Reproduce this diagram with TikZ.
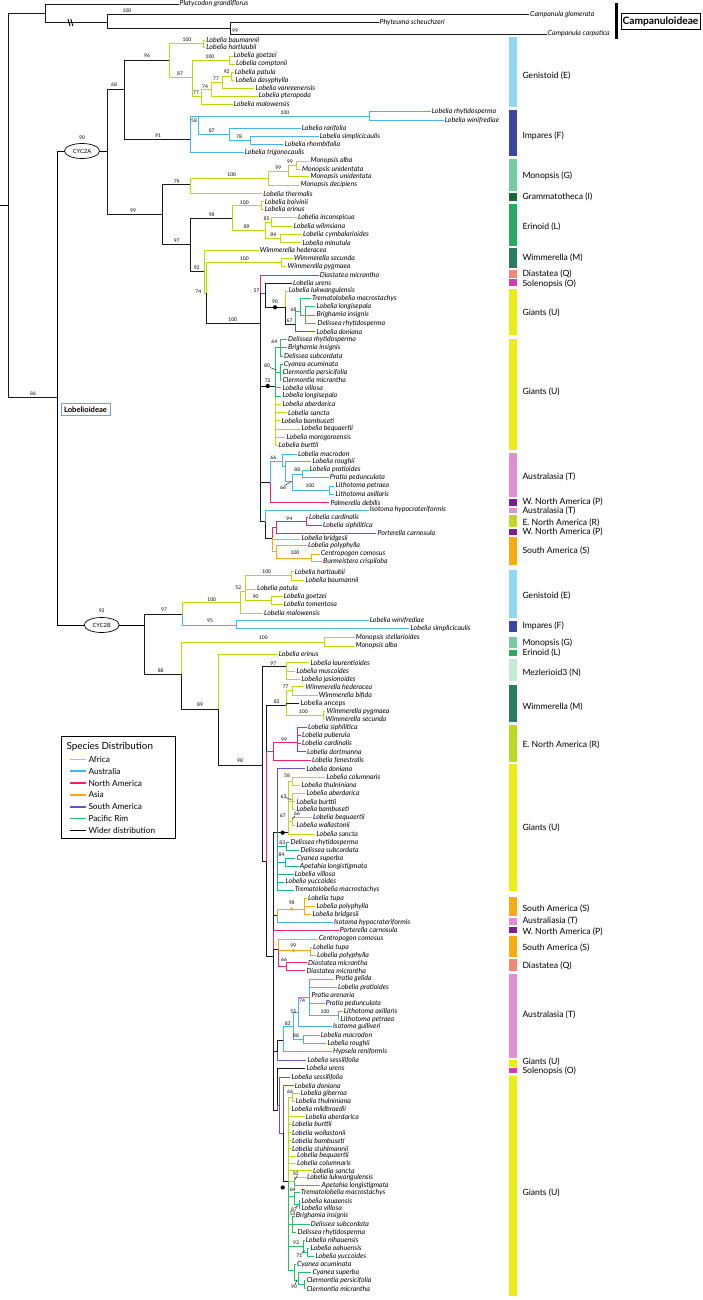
\documentclass[tikz,border=0pt]{standalone}
\usepackage{fontspec}
\setmainfont{Lato}
\usetikzlibrary{shapes.geometric}
\definecolor{cAf}{RGB}{186,216,10}
\definecolor{cAu}{RGB}{75,178,232}
\definecolor{cNa}{RGB}{232,40,100}
\definecolor{cAs}{RGB}{248,168,20}
\definecolor{cSa}{RGB}{100,85,190}
\definecolor{cPr}{RGB}{45,188,100}
\definecolor{cPt}{RGB}{35,170,140}
\definecolor{cWd}{RGB}{25,25,25}
\definecolor{bGen}{RGB}{145,215,242}
\definecolor{bImp}{RGB}{58,70,160}
\definecolor{bMon}{RGB}{115,205,160}
\definecolor{bGra}{RGB}{30,100,55}
\definecolor{bEri}{RGB}{45,168,100}
\definecolor{bWim}{RGB}{40,125,95}
\definecolor{bDia}{RGB}{245,135,120}
\definecolor{bSol}{RGB}{210,60,175}
\definecolor{bGia}{RGB}{236,236,22}
\definecolor{bAus}{RGB}{222,145,210}
\definecolor{bWNA}{RGB}{125,30,140}
\definecolor{bENA}{RGB}{190,217,35}
\definecolor{bSAm}{RGB}{248,172,20}
\definecolor{bMez}{RGB}{196,235,214}
\definecolor{lobbox}{RGB}{110,165,215}
\tikzset{
  tip/.style={anchor=west, inner xsep=1pt, inner ysep=0pt, font=\fontsize{7}{7}\selectfont\itshape},
  tipu/.style={anchor=west, inner xsep=1pt, inner ysep=0pt, font=\fontsize{7}{7}\selectfont},
  bsl/.style={inner sep=0pt, font=\fontsize{5}{5}\selectfont},
  br/.style={line width=0.85pt},
  grp/.style={anchor=west, inner sep=0pt, font=\fontsize{8.6}{8.6}\selectfont},
  oval/.style={ellipse, draw, line width=0.7pt, minimum width=35pt, minimum height=15pt, inner sep=0pt, fill=white, font=\fontsize{5.8}{5.8}\selectfont},
  dotb/.style={circle, fill=black, inner sep=0pt, minimum size=4.2pt},
  doto/.style={circle, fill=cAs, inner sep=0pt, minimum size=3.6pt},
  legl/.style={anchor=west, inner sep=0pt, font=\fontsize{8.3}{8.3}\selectfont},
  leader/.style={line width=0.4pt}
}
\newcommand\Tp[4]{\node[tip] (#1) at (#2,#3) {#4};}
\newcommand\Tu[4]{\node[tipu] (#1) at (#2,#3) {#4};}
\newcommand\Cd[3]{\coordinate (#1) at (#2,#3);}
\newcommand\Et[3]{\draw[br,#1] (#2) |- (#3.west);}
\newcommand\En[3]{\draw[br,#1] (#2) |- (#3);}
\newcounter{bsn}
\newcommand\Bs[3]{\stepcounter{bsn}\node[bsl] (bs\number\value{bsn}) at (#1,#2) {#3};}
\newcommand\GrpBar[6]{\fill[#1] (509.3,#2) rectangle (517.3,#3); \node[grp] (#6) at (522.3,#4) {#5};}
\begin{document}
\begin{tikzpicture}[x=1pt,y=-1pt]
\useasboundingbox (0,0) rectangle (703,1300);
\fill[white] (0,0) rectangle (703,1300);
% ================= Campanuloideae
\Cd{rootS}{0}{205}
\Cd{root}{8}{205}
\draw[br] (rootS) -- (root);
\Cd{cp0}{45}{13.5}
\Cd{cp1}{107}{22.4}
\Cd{cp2}{230}{28.5}
\Tp{platy}{178.5}{4}{Platycodon grandiflorus}
\Tp{cglom}{529}{14.5}{Campanula glomerata}
\Tp{phyt}{378.5}{22.5}{Phyteuma scheuchzeri}
\Tp{ccarp}{546.5}{34}{Campanula carpatica}
\En{cWd}{root}{cp0}
\Et{cWd}{cp0}{platy}
\En{cWd}{cp0}{cp1}
\Et{cWd}{cp1}{cglom}
\En{cWd}{cp1}{cp2}
\Et{cWd}{cp2}{phyt}
\Et{cWd}{cp2}{ccarp}
\Bs{127}{11}{100}
\Bs{235}{30.5}{99}
\draw[line width=0.9pt] (68,19) -- (70,26) (70.8,19) -- (72.8,26);
\fill (614.5,3.5) rectangle (618,39);
\node[draw, line width=0.8pt, minimum width=79pt, minimum height=16pt, inner sep=0pt, font=\bfseries\fontsize{10.2}{10.2}\selectfont] (campbox) at (660.5,21.3) {Campanuloideae};
% ================= Lobelioideae backbone
\Cd{lb0}{57}{397}
\En{cWd}{root}{lb0}
\Bs{33}{393.5}{86}
\node[draw=lobbox, line width=0.6pt, minimum width=49pt, minimum height=11.8pt, inner sep=0pt, font=\bfseries\fontsize{7.6}{7.6}\selectfont] (lobbox) at (85.5,409.5) {Lobelioideae};
\Cd{n68}{107}{151}
\Cd{nB0}{144}{625}
\draw[br] (lb0) |- (n68);
\draw[br] (lb0) |- (nB0);
\node[oval] (ovA) at (82,151) {CYC2A};
\node[oval] (ovB) at (101.7,625) {CYC2B};
\Bs{82}{137.5}{90}
\Bs{101.7}{611}{92}
% ================= CYC2A
\Cd{n1}{124}{89}
\Cd{n99}{162.7}{214}
\En{cWd}{n68}{n1}
\En{cWd}{n68}{n99}
\Bs{114}{85}{68}
\Bs{133}{211}{99}
% Genistoid A
\Cd{G0}{169.3}{60}
\Cd{G1}{203}{43.5}
\Cd{G2}{192.3}{77}
\Cd{G3}{229.3}{60}
\Cd{G4}{201}{96.7}
\Cd{G5}{211.7}{89.3}
\Cd{G6}{222}{82.5}
\Cd{G7}{231.7}{76.7}
\Tp{baum}{205.2}{40}{Lobelia baumannii}
\Tp{hart}{205.2}{47.3}{Lobelia hartlaubii}
\Tp{goet}{232.7}{56}{Lobelia goetzei}
\Tp{compt}{235}{64}{Lobelia comptonii}
\Tp{patula}{233.7}{72.7}{Lobelia patula}
\Tp{dasy}{234.4}{80.7}{Lobelia dasyphylla}
\Tp{vanr}{254.4}{88.3}{Lobelia vanreenensis}
\Tp{pter}{257.7}{96}{Lobelia pteropoda}
\Tp{malow}{232.7}{104}{Lobelia malowensis}
\En{cWd}{n1}{G0}
\En{cAf}{G0}{G1} \En{cAf}{G0}{G2}
\Et{cAf}{G1}{baum} \Et{cAf}{G1}{hart}
\En{cAf}{G2}{G3} \En{cAf}{G2}{G4}
\Et{cAf}{G3}{goet} \Et{cAf}{G3}{compt}
\En{cAf}{G4}{G5} \Et{cAf}{G4}{malow}
\En{cAf}{G5}{G6} \Et{cAf}{G5}{pter}
\En{cAf}{G6}{G7} \Et{cAf}{G6}{vanr}
\Et{cAf}{G7}{patula} \Et{cAf}{G7}{dasy}
\Bs{147}{56}{96} \Bs{187}{40}{100} \Bs{180}{73.5}{87} \Bs{210}{57}{100}
\Bs{196}{93}{77} \Bs{205}{86.5}{74} \Bs{216}{79}{77} \Bs{226.7}{72}{92}
% Impares A
\Cd{I0}{190}{139}
\Cd{I1}{198.3}{116.7}
\Cd{I2}{369.3}{116}
\Cd{I3}{229.3}{134.3}
\Cd{I4}{250}{140}
\Tp{rhyt}{430.7}{111.7}{Lobelia rhytidosperma}
\Tp{winif}{443.7}{120}{Lobelia winifrediae}
\Tp{rari}{300.7}{128.3}{Lobelia rarifolia}
\Tp{simpl}{318.7}{136.7}{Lobelia simplicicaulis}
\Tp{rhomb}{283.7}{144.3}{Lobelia rhombifolia}
\Tp{trig}{243.7}{152.3}{Lobelia trigonocaulis}
\En{cWd}{n1}{I0}
\En{cAu}{I0}{I1} \Et{cAu}{I0}{trig}
\En{cAu}{I1}{I2} \En{cAu}{I1}{I3}
\Et{cAu}{I2}{rhyt} \Et{cAu}{I2}{winif}
\Et{cAu}{I3}{rari} \En{cAu}{I3}{I4}
\Et{cAu}{I4}{simpl} \Et{cAu}{I4}{rhomb}
\Bs{158}{135.5}{91} \Bs{194}{120.5}{58} \Bs{285}{113}{100} \Bs{211.7}{130.5}{87} \Bs{239}{137}{78}
% Monopsis A
\Cd{M0}{190}{184.3}
\Cd{Mo1}{268.3}{178.3}
\Cd{Mo2}{288.3}{171.7}
\Cd{Mo3}{296.7}{165}
\Tp{alba}{309.4}{161}{Monopsis alba}
\Tp{unid1}{301}{169.3}{Monopsis unidentata}
\Tp{unid2}{309.4}{176.7}{Monopsis unidentata}
\Tp{decip}{299.4}{185}{Monopsis decipiens}
\Tp{therm}{262.2}{193.5}{Lobelia thermalis}
\En{cWd}{n99}{M0}
\En{cAf}{M0}{Mo1} \Et{cAf}{M0}{therm}
\En{cAf}{Mo1}{Mo2} \Et{cAf}{Mo1}{decip}
\En{cAf}{Mo2}{Mo3} \Et{cAf}{Mo2}{unid2}
\Et{cAf}{Mo3}{alba} \Et{cAf}{Mo3}{unid1}
\Bs{176.7}{181.5}{79} \Bs{231.7}{175}{100} \Bs{278.3}{167.5}{99} \Bs{290}{161.5}{99}
% Erinoid A
\Cd{E0}{190}{244}
\Cd{Er0}{232.7}{218.3}
\Cd{Er1}{261.7}{205.5}
\Cd{Er2}{265}{230}
\Cd{Er3}{271.7}{222}
\Cd{Er4}{280}{238.5}
\Tp{boiv}{263.7}{201.7}{Lobelia boivinii}
\Tp{erin}{263.7}{209.3}{Lobelia erinus}
\Tp{incon}{297}{217.7}{Lobelia inconspicua}
\Tp{wilms}{292.7}{226}{Lobelia wilmsiana}
\Tp{cymb}{302}{234.3}{Lobelia cymbalarioides}
\Tp{minut}{301.4}{242.7}{Lobelia minutula}
\En{cWd}{n99}{E0}
\En{cWd}{E0}{Er0}
\En{cAf}{Er0}{Er1} \En{cAf}{Er0}{Er2}
\Et{cAf}{Er1}{boiv} \Et{cAf}{Er1}{erin}
\En{cAf}{Er2}{Er3} \En{cAf}{Er2}{Er4}
\Et{cAf}{Er3}{incon} \Et{cAf}{Er3}{wilms}
\Et{cAf}{Er4}{cymb} \Et{cAf}{Er4}{minut}
\Bs{176.7}{240.5}{97} \Bs{211.7}{215}{98} \Bs{244.3}{202.5}{100} \Bs{246.7}{226.5}{89} \Bs{266.5}{218.5}{85} \Bs{273.3}{234.5}{84}
% Wimmerella A
\Cd{W0}{204}{271.7}
\Cd{W1}{206.7}{293}
\Cd{Wp}{281.7}{262.5}
\Cd{GA}{260.7}{323.3}
\Tp{hed}{258.7}{250}{Wimmerella hederacea}
\Tp{sec}{293}{258.3}{Wimmerella secunda}
\Tp{pyg}{286.4}{266.7}{Wimmerella pygmaea}
\En{cWd}{E0}{W0}
\Et{cAf}{W0}{hed} \En{cAf}{W0}{W1}
\En{cAf}{W1}{Wp} \En{cWd}{W1}{GA}
\Et{cAf}{Wp}{sec} \Et{cAf}{Wp}{pyg}
\Bs{196.7}{267.3}{92} \Bs{198.3}{291.7}{74} \Bs{244.3}{259}{100} \Bs{232.7}{320}{100}
% Giants 1
\Cd{D0}{260.7}{293.3}
\Cd{U0}{265}{293.3}
\Cd{U1}{285.7}{307.3}
\Cd{U2}{295}{324.3}
\Cd{U3}{300}{311}
\Cd{U4}{305}{315}
\Tp{diast}{318.7}{275}{Diastatea micrantha}
\Tp{urens}{292}{283.3}{Lobelia urens}
\Tp{lukw}{287.7}{291}{Lobelia lukwangulensis}
\Tp{trem1}{311}{298.3}{Trematolobelia macrostachys}
\Tp{longi1}{315.4}{306.7}{Lobelia longisepala}
\Tp{brig1}{315.4}{315}{Brighamia insignis}
\Tp{delr1}{316.4}{323.3}{Delissea rhytidosperma}
\Tp{doni1}{315.4}{331.7}{Lobelia doniana}
\En{cWd}{GA}{D0}
\Et{cNa}{D0}{diast} \En{cNa}{D0}{U0}
\Et{cWd}{U0}{urens} \En{cWd}{U0}{U1}
\Et{cAf}{U1}{lukw} \En{cWd}{U1}{U2}
\En{cPr}{U2}{U3} \Et{cSa}{U2}{doni1}
\Et{cPr}{U3}{trem1} \En{cPr}{U3}{U4}
\Et{cPr}{U4}{longi1} \Et{cPr}{U4}{brig1} \Et{cPr}{U4}{delr1}
\node[dotb] (dot1) at (275,307.3) {};
\Bs{256.5}{291}{57} \Bs{275}{302}{90} \Bs{293.5}{309.5}{68} \Bs{289.5}{320.5}{67}
% Giants 2
\Cd{G72}{275}{386}
\Cd{n64}{280}{347.7}
\Cd{n80}{280}{372.3}
\Tp{delr2}{287}{339.3}{Delissea rhytidosperma}
\Tp{brig2}{287}{347.7}{Brighamia insignis}
\Tp{dels2}{283}{356}{Delissea subcordata}
\Tp{cyac}{282.7}{364.3}{Cyanea acuminata}
\Tp{clp}{281.4}{372.3}{Clermontia persicifolia}
\Tp{clm}{281.4}{380}{Clermontia micrantha}
\Tp{villo1}{281.4}{387.7}{Lobelia villosa}
\Tp{longi2}{281.4}{396}{Lobelia longisepala}
\Tp{aberd1}{281.4}{404.3}{Lobelia aberdarica}
\Tp{sancta1}{287}{412.7}{Lobelia sancta}
\Tp{bamb1}{280.4}{420.7}{Lobelia bambuseti}
\Tp{bequ1}{300.4}{429}{Lobelia bequaertii}
\Tp{morog}{285.4}{437.3}{Lobelia morogoroensis}
\Tp{burt1}{277.7}{445}{Lobelia burttii}
\En{cWd}{GA}{G72}
\Et{cAf}{G72}{aberd1} \Et{cAf}{G72}{sancta1} \Et{cAf}{G72}{bamb1}
\Et{cAf}{G72}{bequ1} \Et{cAf}{G72}{morog} \Et{cAf}{G72}{burt1}
\En{cPr}{G72}{n64} \En{cPr}{G72}{n80} \Et{cPr}{G72}{villo1} \Et{cPr}{G72}{longi2}
\Et{cPr}{n64}{delr2} \Et{cPr}{n64}{brig2} \Et{cPr}{n64}{dels2}
\Et{cPr}{n80}{cyac} \Et{cPr}{n80}{clp} \Et{cPr}{n80}{clm}
\node[dotb] (dot2) at (267.7,386) {};
\Bs{267.7}{380.5}{72} \Bs{274.3}{342}{64} \Bs{267}{366}{80}
\draw[leader] (270,367.5) -- (276.5,370);
% Australasia 1
\Cd{Aus}{270}{482.7}
\Cd{AuB0}{282.3}{461.7}
\Cd{AuB1}{285.7}{466}
\Cd{AuB2}{292.3}{481.7}
\Cd{Au88}{302.3}{474}
\Cd{AuLi}{329}{490}
\Tp{macr1}{297}{454}{Lobelia macrodon}
\Tp{rough1}{311.4}{461.7}{Lobelia roughii}
\Tp{prat1}{308.7}{470}{Lobelia pratioides}
\Tp{pped1}{328.7}{477.7}{Pratia pedunculata}
\Tp{lpet1}{334.4}{486}{Lithotoma petraea}
\Tp{lax1}{334.4}{494}{Lithotoma axillaris}
\Tp{palm}{329.4}{502.7}{Palmerella debilis}
\En{cWd}{GA}{Aus}
\En{cAu}{Aus}{AuB0} \Et{cNa}{Aus}{palm}
\Et{cAu}{AuB0}{macr1} \En{cAu}{AuB0}{AuB1}
\Et{cAu}{AuB1}{rough1} \En{cAu}{AuB1}{AuB2}
\En{cAu}{AuB2}{Au88} \En{cAu}{AuB2}{AuLi}
\Et{cAu}{Au88}{prat1} \Et{cAu}{Au88}{pped1}
\Et{cAu}{AuLi}{lpet1} \Et{cAu}{AuLi}{lax1}
\Bs{273.3}{458}{66} \Bs{297.3}{469.5}{88} \Bs{310}{486}{100} \Bs{283}{488}{66}
\draw[leader] (284.5,485.5) -- (291.5,481.5);
% Isotoma, North and South America 1
\Cd{X}{265}{521.7}
\Cd{Y}{272.7}{538.3}
\Cd{R0}{276}{527.5}
\Cd{R1}{306.7}{521.5}
\Cd{SA1}{276.7}{551}
\Cd{SA1p}{311.7}{558}
\Tp{isot1}{368.7}{510}{Isotoma hypocrateriformis}
\Tp{card1}{308}{517.3}{Lobelia cardinalis}
\Tp{siph1}{322}{525.7}{Lobelia siphilitica}
\Tp{port1}{376.4}{533.3}{Porterella carnosula}
\Tp{bridg1}{300.4}{539}{Lobelia bridgesii}
\Tp{poly1}{307}{545.7}{Lobelia polyphylla}
\Tp{centro1}{319.7}{554}{Centropogon comosus}
\Tp{burm}{322}{561.7}{Burmeistera crispiloba}
\En{cWd}{GA}{X}
\Et{cAu}{X}{isot1} \En{cWd}{X}{Y}
\En{cNa}{Y}{R0} \Et{cAs}{Y}{bridg1} \En{cAs}{Y}{SA1}
\En{cNa}{R0}{R1} \Et{cNa}{R0}{port1}
\Et{cNa}{R1}{card1} \Et{cNa}{R1}{siph1}
\Et{cAs}{SA1}{poly1} \En{cAs}{SA1}{SA1p}
\Et{cAs}{SA1p}{centro1} \Et{cAs}{SA1p}{burm}
\Bs{289.3}{518.5}{94} \Bs{295}{552.5}{100}
% ================= CYC2B
\Cd{B97}{182.3}{614}
\Cd{B88}{181.7}{674.3}
\En{cWd}{nB0}{B97} \En{cWd}{nB0}{B88}
\Bs{164}{609.3}{97} \Bs{160.7}{670.5}{88}
% Genistoid B
\Cd{BG0}{240}{602.7}
\Cd{BG1}{245}{591.7}
\Cd{BG2}{291.7}{575.7}
\Cd{BG3}{271}{600}
\Tp{hart2}{293.7}{571.7}{Lobelia hartlaubii}
\Tp{baum2}{304.4}{580}{Lobelia baumannii}
\Tp{patula2}{256}{589}{Lobelia patula}
\Tp{goet2}{282.7}{596.7}{Lobelia goetzei}
\Tp{tom}{282.7}{604.3}{Lobelia tomentosa}
\Tp{malow2}{263}{613.3}{Lobelia malowensis}
\En{cAf}{B97}{BG0}
\En{cAf}{BG0}{BG1} \Et{cAf}{BG0}{malow2}
\En{cAf}{BG1}{BG2} \Et{cAf}{BG1}{patula2} \En{cAf}{BG1}{BG3}
\Et{cAf}{BG2}{hart2} \Et{cAf}{BG2}{baum2}
\Et{cAf}{BG3}{goet2} \Et{cAf}{BG3}{tom}
\Bs{211.7}{599.3}{100} \Bs{238.3}{587.5}{52} \Bs{266.7}{572}{100} \Bs{255.7}{597}{90}
% Impares B
\Cd{BI0}{236.7}{625}
\Tp{winif2}{368.7}{620.7}{Lobelia winifrediae}
\Tp{simpl2}{409.4}{628.3}{Lobelia simplicicaulis}
\En{cAu}{B97}{BI0}
\Et{cAu}{BI0}{winif2} \Et{cAu}{BI0}{simpl2}
\Bs{210}{621}{95}
% Monopsis B, erinus, Mezleroid
\Cd{BM}{324.3}{642}
\Cd{B89}{218.3}{709.3}
\Cd{B98}{262.7}{765}
\Cd{Mez}{286.7}{666.7}
\Cd{Z}{266.7}{861.7}
\Tp{stell}{354.7}{637.7}{Monopsis stellarioides}
\Tp{alba2}{354.4}{646}{Monopsis alba}
\Tp{erin2}{277.7}{654.3}{Lobelia erinus}
\Tp{laur}{309.4}{662.7}{Lobelia laurentioides}
\Tp{musc}{295.4}{671}{Lobelia muscoides}
\Tp{jas}{300.4}{679.3}{Lobelia jasionoides}
\En{cAf}{B88}{BM} \En{cWd}{B88}{B89}
\Et{cAf}{BM}{stell} \Et{cAf}{BM}{alba2}
\Et{cAf}{B89}{erin2} \En{cWd}{B89}{B98}
\En{cWd}{B98}{Mez} \En{cWd}{B98}{Z}
\Et{cAf}{Mez}{laur} \Et{cAf}{Mez}{musc} \Et{cAf}{Mez}{jas}
\Bs{263.3}{638}{100} \Bs{200}{704.5}{89} \Bs{240}{760.5}{98} \Bs{273.3}{664}{97}
% Wimmerella B
\Cd{W83}{286.7}{705}
\Cd{W77}{292.7}{690.8}
\Cd{Wp2}{323.3}{715}
\Tp{hed2}{304.4}{686.7}{Wimmerella hederacea}
\Tp{bif}{317.7}{695}{Wimmerella bifida}
\Tu{anceps}{299.4}{703.3}{Lobelia anceps}
\Tp{pyg2}{325.4}{711.7}{Wimmerella pygmaea}
\Tp{sec2}{324.4}{719.3}{Wimmerella secunda}
\En{cWd}{Z}{W83}
\En{cAf}{W83}{W77} \Et{cWd}{W83}{anceps} \En{cAf}{W83}{Wp2}
\Et{cAf}{W77}{hed2} \Et{cAf}{W77}{bif}
\Et{cAf}{Wp2}{pyg2} \Et{cAf}{Wp2}{sec2}
\Bs{276.7}{701.5}{83} \Bs{285.7}{686.5}{77} \Bs{303.3}{711.5}{100}
% North America B
\Cd{NA0}{273.3}{751}
\Cd{NA1}{297.3}{742.7}
\Tp{siph2}{307}{727.3}{Lobelia siphilitica}
\Tp{pub}{301}{735.3}{Lobelia puberula}
\Tp{card2}{301}{743.3}{Lobelia cardinalis}
\Tp{dort}{306}{751.7}{Lobelia dortmanna}
\Tp{fen}{311}{760}{Lobelia fenestralis}
\En{cNa}{Z}{NA0}
\En{cNa}{NA0}{NA1} \Et{cNa}{NA0}{fen}
\Et{cNa}{NA1}{siph2} \Et{cNa}{NA1}{pub} \Et{cNa}{NA1}{card2} \Et{cNa}{NA1}{dort}
\Bs{284}{740}{99}
% Giants 3
\Cd{Z2}{273.3}{956.7}
\Cd{GC}{277.7}{832}
\Cd{GY1}{288.3}{832.7}
\Cd{c58}{292.7}{781.3}
\Cd{c63}{292.7}{801.7}
\Cd{c66}{292.7}{821.3}
\Cd{d83}{286.7}{846}
\Cd{d84}{285.5}{862.5}
\En{cWd}{Z}{Z2}
\Tp{doni2}{305.4}{768.7}{Lobelia doniana}
\Tp{colum1}{325.4}{777.3}{Lobelia columnaris}
\Tp{thul1}{300.4}{785.3}{Lobelia thulniniana}
\Tp{aberd2}{305.4}{793.3}{Lobelia aberdarica}
\Tp{burt2}{295.4}{801.7}{Lobelia burttii}
\Tp{bamb2}{295.4}{809.3}{Lobelia bambuseti}
\Tp{bequ2}{312}{817.3}{Lobelia bequaertii}
\Tp{woll1}{295.4}{825.3}{Lobelia wallastonii}
\Tp{sancta2}{315.4}{834}{Lobelia sancta}
\Tp{delr3}{289.4}{842.3}{Delissea rhytidosperma}
\Tp{dels3}{299.4}{850}{Delissea subcordata}
\Tp{cysup1}{295.4}{858.3}{Cyanea superba}
\Tp{apet1}{298.7}{866.7}{Apetahia longistigmata}
\Tp{villo2}{293.7}{874.3}{Lobelia villosa}
\Tp{yucc1}{284.4}{882}{Lobelia yuccoides}
\Tp{trem2}{293.7}{890}{Trematolobelia macrostachys}
\En{cWd}{Z2}{GC}
\Et{cSa}{GC}{doni2} \En{cWd}{GC}{GY1}
\En{cPt}{GC}{d83} \En{cPt}{GC}{d84}
\Et{cPt}{GC}{villo2} \Et{cPt}{GC}{yucc1} \Et{cPt}{GC}{trem2}
\En{cAf}{GY1}{c58} \En{cAf}{GY1}{c63} \En{cAf}{GY1}{c66} \Et{cAf}{GY1}{sancta2}
\Et{cAf}{c58}{colum1} \Et{cAf}{c58}{thul1}
\Et{cAf}{c63}{aberd2} \Et{cAf}{c63}{burt2} \Et{cAf}{c63}{bamb2}
\Et{cAf}{c66}{bequ2} \Et{cAf}{c66}{woll1}
\Et{cPt}{d83}{delr3} \Et{cPt}{d83}{dels3}
\Et{cPt}{d84}{cysup1} \Et{cPt}{d84}{apet1}
\node[dotb] (dot3) at (282.7,832.7) {};
\Bs{287}{775.5}{58} \Bs{283.5}{796.5}{63} \Bs{282.7}{815.7}{67} \Bs{297}{813.5}{66} \Bs{282.3}{842.3}{83} \Bs{281.5}{855}{84}
\draw[leader] (286,797.5) -- (291.5,800);
\draw[leader] (295,815.5) -- (292.5,819);
% Asia/South America B
\Cd{As1}{277.7}{915.7}
\Cd{As1o}{304}{909}
\Tp{tupa1}{307}{898.3}{Lobelia tupa}
\Tp{poly2}{315.4}{906.7}{Lobelia polyphylla}
\Tp{bridg2}{311.4}{914.3}{Lobelia bridgesii}
\Tp{isot2}{333}{922.3}{Isotoma hypocrateriformis}
\Tp{port2}{338.7}{930}{Porterella carnosula}
\En{cWd}{Z2}{As1}
\En{cAs}{As1}{As1o} \Et{cAu}{As1}{isot2}
\Et{cAs}{As1o}{tupa1} \Et{cAs}{As1o}{poly2} \Et{cAs}{As1o}{bridg2}
\Et{cNa}{Z2}{port2}
\node[doto] (dot4) at (291.7,909) {};
\Bs{291.7}{903}{98}
\Cd{SA2}{278.3}{949}
\Cd{SA2o}{310}{950.7}
\Cd{SA2d}{286.7}{966.7}
\Tp{centro2}{317.7}{939}{Centropogon comosus}
\Tp{tupa2}{312}{947.3}{Lobelia tupa}
\Tp{poly3}{316}{955.3}{Lobelia polyphylla}
\Tp{diam1}{307}{962.7}{Diastatea micrantha}
\Tp{diam2}{305.4}{970.7}{Diastatea micrantha}
\En{cWd}{Z2}{SA2}
\Et{cAs}{SA2}{centro2} \En{cAs}{SA2}{SA2o} \En{cNa}{SA2}{SA2d}
\Et{cAs}{SA2o}{tupa2} \Et{cAs}{SA2o}{poly3}
\Et{cNa}{SA2d}{diam1} \Et{cNa}{SA2d}{diam2}
\node[doto] (dot5) at (293.3,950.7) {};
\Bs{293.3}{945.5}{99} \Bs{284}{959.5}{66}
% Australasia B
\Cd{AS}{277.7}{1051.7}
\Cd{A83}{283.3}{1040}
\Cd{Aint}{293.3}{1026}
\Cd{A55}{298.3}{1012}
\Cd{A74}{309.3}{997}
\Cd{ALi}{338}{1015}
\Cd{A88}{303.3}{1039.3}
\Tp{gel}{334.4}{979}{Pratia gelida}
\Tp{prat2}{337}{987.3}{Lobelia pratioides}
\Tp{aren}{310.4}{995}{Pratia arenaria}
\Tp{pped2}{324.7}{1003.3}{Pratia pedunculata}
\Tp{lax2}{342.7}{1011}{Lithotoma axillaris}
\Tp{lpet2}{339.4}{1019.3}{Lithotoma petraea}
\Tp{gull}{332}{1026.7}{Isotoma gulliveri}
\Tp{macr2}{319.7}{1035}{Lobelia macrodon}
\Tp{rough2}{326.4}{1043.3}{Lobelia roughii}
\Tp{hyps}{332}{1051.7}{Hypsela reniformis}
\Tp{sess1}{306.4}{1060}{Lobelia sessilifolia}
\En{cWd}{Z2}{AS}
\En{cWd}{AS}{A83} \Et{cSa}{AS}{sess1}
\En{cAu}{A83}{Aint} \Et{cAu}{A83}{hyps}
\En{cAu}{Aint}{A55} \En{cAu}{Aint}{A88}
\En{cAu}{A55}{A74} \Et{cAu}{A55}{gull}
\Et{cAu}{A74}{gel} \Et{cAu}{A74}{prat2} \Et{cAu}{A74}{aren} \Et{cAu}{A74}{pped2} \En{cAu}{A74}{ALi}
\Et{cAu}{ALi}{lax2} \Et{cAu}{ALi}{lpet2}
\Et{cAu}{A88}{macr2} \Et{cAu}{A88}{rough2}
\Bs{302}{1001}{74} \Bs{325}{1011.5}{100} \Bs{293.3}{1011.5}{55} \Bs{287.7}{1023.5}{83} \Bs{296}{1035.5}{88}
% Giants 4
\Cd{GD}{277.7}{1110}
\Cd{GD2}{279}{1105}
\Cd{GD3}{283.3}{1133}
\Cd{GY2}{288.3}{1181}
\Tp{urens2}{305.4}{1068.3}{Lobelia urens}
\Tp{sess2}{290.4}{1077.3}{Lobelia sessilifolia}
\Tp{doni3}{293.7}{1085.7}{Lobelia doniana}
\En{cWd}{Z2}{GD}
\Et{cWd}{GD}{urens2} \En{cSa}{GD}{GD2}
\Et{cSa}{GD2}{sess2} \En{cSa}{GD2}{GD3}
\Et{cSa}{GD3}{doni3} \En{cWd}{GD3}{GY2}
\node[dotb] (dot6) at (282.7,1187.5) {};
\Cd{y66}{292.7}{1097.2}
\Cd{y50}{294}{1181.5}
\Cd{g64}{294}{1196.7}
\Cd{g87}{299}{1204.5}
\Cd{g53}{292.7}{1224.3}
\Cd{g93}{303.3}{1246.7}
\Cd{g71}{307.5}{1252.5}
\Cd{g90}{294}{1270}
\Cd{g90b}{298.3}{1280}
\Cd{g90c}{304}{1284.7}
\Tp{gib}{299.7}{1093.3}{Lobelia giberroa}
\Tp{thul2}{294.7}{1101}{Lobelia thulniniana}
\Tp{mild}{290.4}{1108.7}{Lobelia mildbraedii}
\Tp{aberd3}{304.7}{1116.7}{Lobelia aberdarica}
\Tp{burt3}{291}{1124.3}{Lobelia burttii}
\Tp{woll2}{291}{1132.7}{Lobelia wollastonii}
\Tp{bamb3}{291}{1140.7}{Lobelia bambuseti}
\Tp{stuhl}{291}{1148.7}{Lobelia stuhlmannii}
\Tp{bequ3}{296}{1156}{Lobelia bequaertii}
\Tp{colum2}{296}{1163.3}{Lobelia columnaris}
\Tp{sancta3}{312}{1170.7}{Lobelia sancta}
\Tp{lukw2}{306}{1177.7}{Lobelia lukwangulensis}
\Tp{apet2}{320.4}{1185.3}{Apetahia longistigmata}
\Tp{trem3}{299.7}{1192.7}{Trematolobelia macrostachys}
\Tp{kaua}{300.4}{1200.7}{Lobelia kauaensis}
\Tp{villo3}{300.4}{1208.3}{Lobelia villosa}
\Tp{brig3}{294.7}{1216}{Brighamia insignis}
\Tp{dels4}{309.7}{1224.3}{Delissea subcordata}
\Tp{delr4}{296.4}{1232.3}{Delissea rhytidosperma}
\Tp{nih}{304.7}{1240}{Lobelia nihauensis}
\Tp{oah}{309.4}{1248.3}{Lobelia oahuensis}
\Tp{yucc2}{314.4}{1256.7}{Lobelia yuccoides}
\Tp{cyac2}{296}{1264.3}{Cyanea acuminata}
\Tp{cysup2}{311.4}{1272.7}{Cyanea superba}
\Tp{clp2}{305.4}{1280.7}{Clermontia persicifolia}
\Tp{clm2}{305.4}{1288.7}{Clermontia micrantha}
\En{cAf}{GY2}{y66} \Et{cAf}{GY2}{mild} \Et{cAf}{GY2}{aberd3} \Et{cAf}{GY2}{burt3}
\Et{cAf}{GY2}{woll2} \Et{cAf}{GY2}{bamb3} \Et{cAf}{GY2}{stuhl} \Et{cAf}{GY2}{bequ3}
\Et{cAf}{GY2}{colum2} \Et{cAf}{GY2}{sancta3} \En{cAf}{GY2}{y50}
\Et{cAf}{y66}{gib} \Et{cAf}{y66}{thul2}
\Et{cAf}{y50}{lukw2} \Et{cPr}{y50}{apet2}
\En{cPr}{GY2}{g64} \En{cPr}{GY2}{g53} \En{cPr}{GY2}{g93} \En{cPr}{GY2}{g90}
\Et{cPr}{g64}{trem3} \En{cPr}{g64}{g87}
\Et{cPr}{g87}{kaua} \Et{cPr}{g87}{villo3}
\Et{cPr}{g53}{brig3} \Et{cPr}{g53}{dels4} \Et{cPr}{g53}{delr4}
\Et{cPr}{g93}{nih} \En{cPr}{g93}{g71}
\Et{cPr}{g71}{oah} \Et{cPr}{g71}{yucc2}
\Et{cPr}{g90}{cyac2} \En{cPr}{g90}{g90b}
\Et{cPr}{g90b}{cysup2} \En{cPr}{g90b}{g90c}
\Et{cPr}{g90c}{clp2} \Et{cPr}{g90c}{clm2}
\Bs{290}{1092}{66} \Bs{295.7}{1173.5}{50} \Bs{292.7}{1189.5}{64} \Bs{294}{1210}{87}
\Bs{292.7}{1213.8}{53} \Bs{296}{1242.5}{93} \Bs{299.3}{1255.5}{71} \Bs{294}{1286.5}{90}
\draw[leader] (295.5,1207.5) -- (298.5,1205);
\draw[leader] (301.5,1253.5) -- (305,1250.5);
\draw[leader] (295,1284) -- (297,1280.5);
\draw[leader] (297.5,1175.5) -- (294.5,1180);
% ================= group bars
\GrpBar{bGen}{37.3}{106.7}{76.1}{Genistoid (E)}{g1}
\GrpBar{bImp}{110.4}{156.5}{136}{Impares (F)}{g2}
\GrpBar{bMon}{159.4}{191.2}{175.7}{Monopsis (G)}{g3}
\GrpBar{bGra}{193.3}{200.6}{197}{Grammatotheca (I)}{g4}
\GrpBar{bEri}{203.5}{245.5}{227.1}{Erinoid (L)}{g5}
\GrpBar{bWim}{248}{268.4}{258.2}{Wimmerella (M)}{g6}
\GrpBar{bDia}{270.4}{277.8}{274}{Diastatea (Q)}{g7}
\GrpBar{bSol}{279.4}{285.9}{283.5}{Solenopsis (O)}{g8}
\GrpBar{bGia}{288.8}{335.3}{312.9}{Giants (U)}{g9}
\GrpBar{bGia}{338.6}{450.4}{391.6}{Giants (U)}{g10}
\GrpBar{bAus}{452.9}{496.5}{476.5}{Australasia (T)}{g11}
\GrpBar{bWNA}{499.4}{505.5}{501.4}{W. North America (P)}{g12}
\GrpBar{bAus}{507.6}{512.9}{510.8}{Australasia (T)}{g13}
\GrpBar{bENA}{514.5}{526.7}{522.7}{E. North America (R)}{g14}
\GrpBar{bWNA}{528.8}{534.5}{532}{W. North America (P)}{g15}
\GrpBar{bSAm}{536.9}{564.7}{551.2}{South America (S)}{g16}
\GrpBar{bGen}{570}{617.7}{595.7}{Genistoid (E)}{g17}
\GrpBar{bImp}{620.6}{632}{625.9}{Impares (F)}{g18}
\GrpBar{bMon}{636.9}{648.4}{643}{Monopsis (G)}{g19}
\GrpBar{bEri}{650.4}{655.7}{652.4}{Erinoid (L)}{g20}
\GrpBar{bMez}{658.6}{681.2}{673}{Mezlerioid3 (N)}{g21}
\GrpBar{bWim}{684.5}{722}{707}{Wimmerella (M)}{g22}
\GrpBar{bENA}{725.3}{762}{744.5}{E. North America (R)}{g23}
\GrpBar{bGia}{764}{891.4}{827.3}{Giants (U)}{g24}
\GrpBar{bSAm}{896.7}{916.3}{909}{South America (S)}{g25}
\GrpBar{bAus}{918.4}{924.5}{921.2}{Australiasia (T)}{g26}
\GrpBar{bWNA}{927.3}{932.7}{932.2}{W. North America (P)}{g27}
\GrpBar{bSAm}{935.5}{957.1}{947.8}{South America (S)}{g28}
\GrpBar{bDia}{959.2}{971}{966.1}{Diastatea (Q)}{g29}
\GrpBar{bAus}{973.5}{1058}{1014.3}{Australasia (T)}{g30}
\GrpBar{bGia}{1060}{1066.5}{1062}{Giants (U)}{g31}
\GrpBar{bSol}{1068.2}{1073.1}{1071}{Solenopsis (O)}{g32}
\GrpBar{bGia}{1075.5}{1296}{1192.7}{Giants (U)}{g33}
% ================= legend
\node[draw, line width=0.8pt, minimum width=114pt, minimum height=102pt, inner sep=0pt, anchor=north west] (leg) at (61,736) {};
\node[anchor=west, inner sep=0pt, font=\fontsize{9.8}{9.8}\selectfont] (legt) at (66.5,746.7) {Species Distribution};
\draw[line width=1.6pt, cAf] (70,759.3) -- (86,759.3);
\draw[line width=1.6pt, cAu] (70,771.2) -- (86,771.2);
\draw[line width=1.6pt, cNa] (70,783) -- (86,783);
\draw[line width=1.6pt, cAs] (70,794.9) -- (86,794.9);
\draw[line width=1.6pt, cSa] (70,806.7) -- (86,806.7);
\draw[line width=1.6pt, cPr] (70,818.6) -- (86,818.6);
\draw[line width=1.6pt, black] (70,830.4) -- (86,830.4);
\node[legl] (l1) at (88.3,759.3) {Africa};
\node[legl] (l2) at (88.3,771.2) {Australia};
\node[legl] (l3) at (88.3,783) {North America};
\node[legl] (l4) at (88.3,794.9) {Asia};
\node[legl] (l5) at (88.3,806.7) {South America};
\node[legl] (l6) at (88.3,818.6) {Pacific Rim};
\node[legl] (l7) at (88.3,830.4) {Wider distribution};
\end{tikzpicture}
\end{document}
